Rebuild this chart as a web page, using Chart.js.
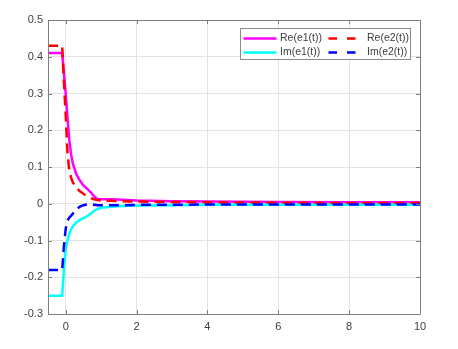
<!DOCTYPE html>
<html>
<head>
<meta charset="utf-8">
<script src="https://cdn.jsdelivr.net/npm/chart.js@4.4.1/dist/chart.umd.min.js"></script>
<style>
  html, body { margin: 0; padding: 0; background: #fff; }
  canvas { display: block; }
</style>
</head>
<body>
<canvas id="errChart" width="458" height="349"></canvas>
<script>
// time samples shared by all four series
const timeValues = [-0.5, -0.1, -0.05, 0, 0.05, 0.1, 0.15, 0.2, 0.3, 0.4, 0.5, 0.6, 0.7, 0.8, 0.9, 1.0, 1.3, 1.6, 2, 3, 4, 6, 8, 10];

const reE1 = [0.41, 0.41, 0.355, 0.30, 0.235, 0.175, 0.135, 0.11, 0.08, 0.063, 0.05, 0.041, 0.032, 0.02, 0.013, 0.012, 0.012, 0.011, 0.009, 0.007, 0.006, 0.005, 0.004, 0.004];
const reE2 = [0.43, 0.43, 0.33, 0.24, 0.14, 0.09, 0.072, 0.058, 0.043, 0.034, 0.027, 0.021, 0.016, 0.012, 0.01, 0.009, 0.008, 0.007, 0.006, 0.005, 0.004, 0.003, 0.002, 0.002];
const imE1 = [-0.25, -0.25, -0.18, -0.126, -0.1, -0.082, -0.07, -0.062, -0.051, -0.044, -0.039, -0.034, -0.027, -0.019, -0.014, -0.011, -0.008, -0.006, -0.005, -0.004, -0.003, -0.003, -0.003, -0.003];
const imE2 = [-0.18, -0.18, -0.115, -0.068, -0.046, -0.038, -0.033, -0.027, -0.015, -0.008, -0.004, -0.002, -0.002, -0.003, -0.004, -0.004, -0.004, -0.004, -0.003, -0.003, -0.002, -0.002, -0.002, -0.002];

const seriesNames = ['Re(e1(t))', 'Re(e2(t))', 'Im(e1(t))', 'Im(e2(t))'];

const xTicks = [0, 2, 4, 6, 8, 10];
const yTicks = [-0.3, -0.2, -0.1, 0, 0.1, 0.2, 0.3, 0.4, 0.5];
const yTickLabels = ['-0.3', '-0.2', '-0.1', '0', '0.1', '0.2', '0.3', '0.4', '0.5'];

const FONT = 'Liberation Sans, Arial, sans-serif';
const TEXT_COLOR = '#404040';
const AXIS_COLOR = '#7f7f7f';

function toPoints(vals) {
    return timeValues.map((t, i) => ({ x: t, y: vals[i] }));
}

// frame, inward tick marks (MATLAB style) and the boxed two-column legend
const matlabDecor = {
    id: 'matlabDecor',
    afterDraw(chart) {
        const ctx = chart.ctx;
        const area = chart.chartArea;
        const xs = chart.scales.x;
        const ys = chart.scales.y;
        ctx.save();
        ctx.strokeStyle = AXIS_COLOR;
        ctx.lineWidth = 1;
        ctx.beginPath();
        ctx.rect(Math.round(area.left) + 0.5, Math.round(area.top) + 0.5,
                 Math.round(area.right - area.left), Math.round(area.bottom - area.top));
        ctx.stroke();

        const tl = 4;
        ctx.beginPath();
        xTicks.forEach(v => {
            const px = Math.round(xs.getPixelForValue(v)) + 0.5;
            ctx.moveTo(px, area.bottom); ctx.lineTo(px, area.bottom - tl);
            ctx.moveTo(px, area.top); ctx.lineTo(px, area.top + tl);
        });
        yTicks.forEach(v => {
            const py = Math.round(ys.getPixelForValue(v)) + 0.5;
            ctx.moveTo(area.left, py); ctx.lineTo(area.left + tl, py);
            ctx.moveTo(area.right, py); ctx.lineTo(area.right - tl, py);
        });
        ctx.stroke();

        // legend box
        const bx = area.right - 179.5, by = area.top + 8.5, bw = 170, bh = 31;
        ctx.fillStyle = '#ffffff';
        ctx.fillRect(bx, by, bw, bh);
        ctx.strokeStyle = '#8a8a8a';
        ctx.strokeRect(bx, by, bw, bh);

        const ds = chart.data.datasets;
        const slots = [
            { i: 0, x: bx + 3, y: by + 10 },
            { i: 1, x: bx + 88, y: by + 10 },
            { i: 2, x: bx + 3, y: by + 24 },
            { i: 3, x: bx + 88, y: by + 24 }
        ];
        ctx.font = '10.5px ' + FONT;
        ctx.textBaseline = 'middle';
        ctx.textAlign = 'left';
        slots.forEach(s => {
            const d = ds[s.i];
            ctx.strokeStyle = d.borderColor;
            ctx.lineWidth = 2.5;
            ctx.setLineDash(d.borderDash && d.borderDash.length ? [8.5, 10] : []);
            ctx.beginPath();
            ctx.moveTo(s.x, s.y); ctx.lineTo(s.x + 33, s.y);
            ctx.stroke();
            ctx.setLineDash([]);
            ctx.fillStyle = TEXT_COLOR;
            ctx.fillText(d.label, s.i % 2 === 0 ? s.x + 36.5 : s.x + 38.5, s.y);
        });
        ctx.restore();
    }
};

const ctxErr = document.getElementById('errChart').getContext('2d');

const errChart = new Chart(ctxErr, {
    type: 'line',
    data: {
        datasets: [
            {
                label: seriesNames[0],
                data: toPoints(reE1),
                borderColor: '#ff00ff',
                borderWidth: 2.5,
                order: 4
            },
            {
                label: seriesNames[1],
                data: toPoints(reE2),
                borderColor: '#ff0000',
                borderWidth: 2.5,
                borderDash: [10, 6],
                order: 2
            },
            {
                label: seriesNames[2],
                data: toPoints(imE1),
                borderColor: '#00ffff',
                borderWidth: 2.5,
                order: 3
            },
            {
                label: seriesNames[3],
                data: toPoints(imE2),
                borderColor: '#0000ff',
                borderWidth: 2.5,
                borderDash: [10, 6],
                order: 1
            }
        ]
    },
    options: {
        responsive: false,
        animation: false,
        layout: { padding: { top: 20, right: 38, left: 0, bottom: 0 } },
        elements: {
            point: { radius: 0 },
            line: { tension: 0, fill: false }
        },
        plugins: {
            legend: { display: false },
            tooltip: { enabled: false }
        },
        scales: {
            x: {
                type: 'linear',
                min: -0.5,
                max: 10,
                afterBuildTicks: (scale) => { scale.ticks = xTicks.map(v => ({ value: v })); },
                afterFit: (scale) => { scale.height = 35; },
                ticks: {
                    color: TEXT_COLOR,
                    font: { family: FONT, size: 11 },
                    padding: 6,
                    maxRotation: 0,
                    callback: (v) => String(v)
                },
                grid: {
                    color: '#e3e3e3',
                    drawTicks: false
                },
                border: { display: false }
            },
            y: {
                type: 'linear',
                min: -0.3,
                max: 0.5,
                afterBuildTicks: (scale) => { scale.ticks = yTicks.map(v => ({ value: v })); },
                afterFit: (scale) => { scale.width = 48; },
                ticks: {
                    color: TEXT_COLOR,
                    font: { family: FONT, size: 11 },
                    padding: 5,
                    callback: (v, i) => yTickLabels[i]
                },
                grid: {
                    color: '#e3e3e3',
                    drawTicks: false
                },
                border: { display: false }
            }
        }
    },
    plugins: [matlabDecor]
});
</script>
</body>
</html>
